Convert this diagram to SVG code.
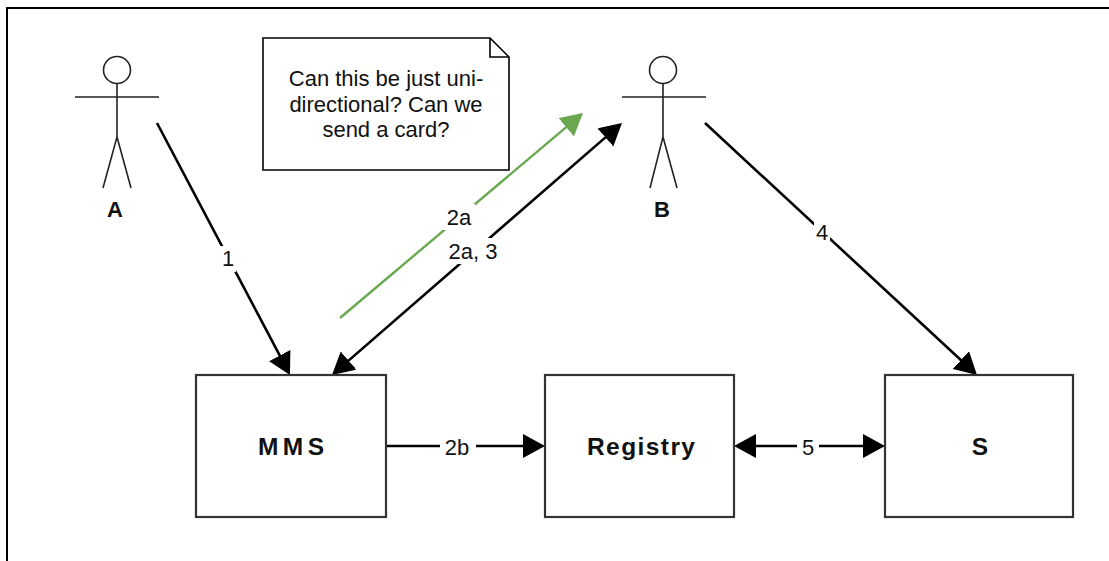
<svg xmlns="http://www.w3.org/2000/svg" width="1109" height="561" viewBox="0 0 1109 561">
<style>
text{font-family:"Liberation Sans",Arial,Helvetica,sans-serif;fill:#111}
.lbl{font-size:22px;text-anchor:middle}
.bold{font-size:24.5px;font-weight:bold;text-anchor:middle}
.box{fill:#fff;stroke:#333;stroke-width:2.2}
.actor{fill:none;stroke:#222;stroke-width:1.6}
.edge{fill:none;stroke:#000;stroke-width:2.6}
.green{fill:none;stroke:#6aa84f;stroke-width:2.4}
.bg{fill:#fff;stroke:none}
</style>
<defs>
<marker id="arr" viewBox="0 0 22 24" refX="18" refY="12" markerWidth="22" markerHeight="24" markerUnits="userSpaceOnUse" orient="auto-start-reverse">
<path d="M0,0 L22,12 L0,24 Z" fill="#000"/>
</marker>
<marker id="arrG" viewBox="0 0 22 24" refX="18" refY="12" markerWidth="22" markerHeight="24" markerUnits="userSpaceOnUse" orient="auto-start-reverse">
<path d="M0,0 L22,12 L0,24 Z" fill="#6aa84f"/>
</marker>
</defs>
<rect width="1109" height="561" fill="#fff"/>
<path d="M7,561 V8 H1109" fill="none" stroke="#000" stroke-width="2"/>

<g id="connectors">
<path class="edge" d="M157,123 L288.13,371.46" marker-end="url(#arr)"/>
<path class="edge" d="M335.02,372.38 L618.98,125.62" marker-start="url(#arr)" marker-end="url(#arr)"/>
<path class="green" d="M340,318 L579.94,115.58" marker-end="url(#arrG)"/>
<path class="edge" d="M705,123 L974.07,372.28" marker-end="url(#arr)"/>
<path class="edge" d="M386,446 L541,446" marker-end="url(#arr)"/>
<path class="edge" d="M738,446 L881,446" marker-start="url(#arr)" marker-end="url(#arr)"/>
<rect class="bg" x="220" y="246" width="16" height="26"/>
<text class="lbl" x="228" y="266">1</text>
<rect class="bg" x="443" y="204" width="32" height="26"/>
<text class="lbl" x="459" y="225">2a</text>
<rect class="bg" x="447" y="238" width="52" height="26"/>
<text class="lbl" x="473" y="259">2a, 3</text>
<rect class="bg" x="814" y="220" width="16" height="26"/>
<text class="lbl" x="822" y="240">4</text>
<rect class="bg" x="440" y="433" width="36" height="26"/>
<text class="lbl" x="457" y="455">2b</text>
<rect class="bg" x="797" y="433" width="22" height="26"/>
<text class="lbl" x="808" y="455">5</text>
</g>

<g id="actorA">
<circle class="actor" cx="117" cy="70" r="13.5"/>
<path class="actor" d="M75,97 H159 M117,83.5 V137 L103,188 M117,137 L131,188"/>
<text class="bold" x="115" y="217" style="font-size:22px">A</text>
</g>

<g id="actorB">
<circle class="actor" cx="663" cy="70" r="13.5"/>
<path class="actor" d="M622,97 H706 M663,83.5 V137 L650,188 M663,137 L677,188"/>
<text class="bold" x="662" y="217" style="font-size:22px">B</text>
</g>

<g id="note">
<path d="M263,38 H490 L509,57 V170 H263 Z" fill="#fff" stroke="#000" stroke-width="1.6"/>
<path d="M490,38 V57 H509" fill="none" stroke="#000" stroke-width="1.6"/>
<text class="lbl" x="386" y="86">Can this be just uni-</text>
<text class="lbl" x="386" y="112">directional? Can we</text>
<text class="lbl" x="386" y="137">send a card?</text>
</g>

<g id="mms">
<rect class="box" x="196" y="375" width="190" height="142"/>
<text class="bold" x="291" y="455" textLength="66" lengthAdjust="spacing">MMS</text>
</g>

<g id="registry">
<rect class="box" x="545" y="375" width="189" height="142"/>
<text class="bold" x="641" y="455" textLength="108" lengthAdjust="spacing">Registry</text>
</g>

<g id="s">
<rect class="box" x="885" y="375" width="188" height="142"/>
<text class="bold" x="980" y="455">S</text>
</g>
</svg>
